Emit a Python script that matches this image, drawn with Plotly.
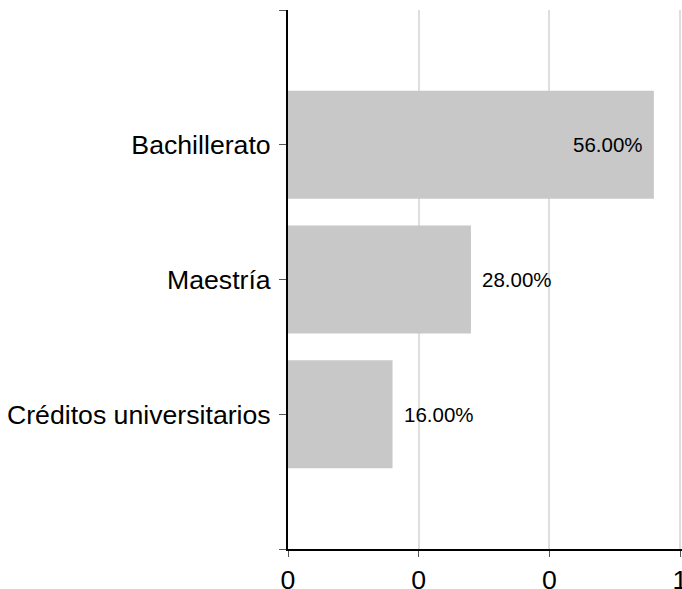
import plotly.graph_objects as go

categories = ["Créditos universitarios", "Maestría", "Bachillerato"]
values = [0.16, 0.28, 0.56]
x_ticks = [0, 0.2, 0.4, 0.6]

FONT = "Liberation Sans, Arial, sans-serif"
ypos = list(range(len(categories)))

fig = go.Figure()
fig.add_trace(go.Bar(
    y=ypos, x=values, orientation="h", width=0.8,
    marker=dict(color="#c8c8c8", line=dict(width=0)),
    hoverinfo="skip",
))

for yv, v in zip(ypos, values):
    inside = v > 0.4
    fig.add_annotation(
        x=v, y=yv, xref="x", yref="y",
        text=f"{v*100:.2f}%", showarrow=False,
        xanchor="right" if inside else "left",
        xshift=-9 if inside else 9,
        font=dict(family=FONT, size=20.5, color="black"),
    )

fig.update_layout(
    width=682, height=589,
    margin=dict(l=288, r=0, t=10, b=40),
    paper_bgcolor="white", plot_bgcolor="white",
    showlegend=False,
    font=dict(family=FONT, color="black"),
    bargap=0.2,
)
fig.update_xaxes(
    range=[0, 0.60306], tickvals=x_ticks, tickformat=".0f",
    showgrid=True, gridcolor="#dedede", gridwidth=2,
    zeroline=False, automargin=False, ticklabeloverflow="allow",
    showline=True, linecolor="black", linewidth=2,
    ticks="outside", ticklen=6, tickcolor="#555", tickwidth=1,
    tickfont=dict(family=FONT, size=26.67, color="black"),
)
fig.update_yaxes(
    range=[-1, 3],
    tickvals=[-1] + ypos + [3],
    ticktext=[""] + categories + [""],
    showgrid=False, zeroline=False, automargin=False,
    showline=True, linecolor="black", linewidth=2,
    ticks="outside", ticklen=7, tickcolor="#555", tickwidth=1,
    ticklabelstandoff=3,
    tickfont=dict(family=FONT, size=26.67, color="black"),
)

fig.write_html(
    "out.html",
    config={"displayModeBar": False},
    post_script="document.body.style.margin='0';document.body.style.overflow='hidden';",
)
